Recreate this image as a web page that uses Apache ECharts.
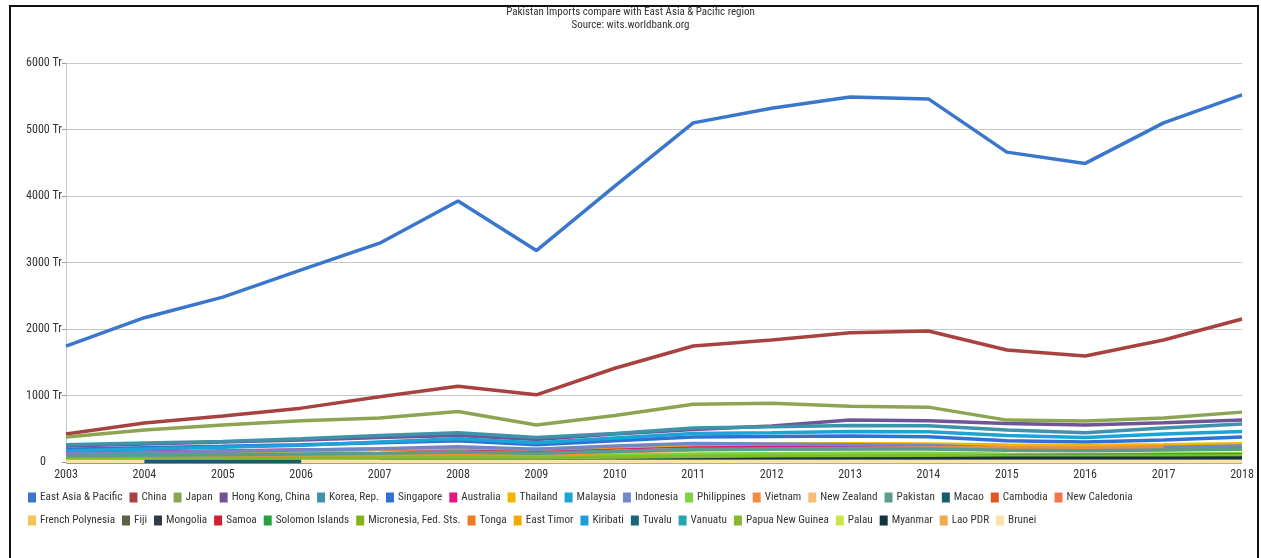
<!DOCTYPE html>
<html><head><meta charset="utf-8">
<script src="https://cdn.jsdelivr.net/npm/echarts@6/dist/echarts.min.js"></script>
<style>
html,body{margin:0;padding:0;background:#fff;width:1261px;height:558px;overflow:hidden;}
#frame{position:absolute;left:9px;top:5px;width:1250px;height:600px;border:2px solid #111;box-sizing:border-box;pointer-events:none;}
#chart{position:absolute;left:0;top:0;width:1261px;height:558px;}
</style></head>
<body>
<div id="chart"></div>
<div id="frame"></div>
<script>
const years = ['2003','2004','2005','2006','2007','2008','2009','2010','2011','2012','2013','2014','2015','2016','2017','2018'];
const yTicks = [0,1000,2000,3000,4000,5000,6000];
const titleText = 'Pakistan Imports compare with East Asia & Pacific region';
const subText = 'Source: wits.worldbank.org';

const eastAsiaPacific = [1744,2170,2480,2890,3290,3925,3180,4150,5100,5320,5490,5460,4660,4490,5100,5520];
const china = [420,586,690,810,980,1140,1010,1410,1745,1835,1945,1970,1685,1595,1835,2150];
const japan = [375,480,555,620,660,760,555,700,870,885,840,825,630,615,660,750];
const hongKong = [240,270,300,330,370,400,340,420,490,540,630,620,580,555,590,630];
const korea = [260,285,310,350,400,440,370,430,510,530,550,545,480,440,510,570];
const singapore = [190,215,235,260,290,320,260,320,375,385,390,380,320,300,330,375];
const australia = [130,150,165,180,190,200,160,210,240,235,230,225,190,185,200,215];
const thailand = [110,130,150,170,190,215,190,230,265,270,275,270,255,250,260,275];
const malaysia = [170,195,220,250,300,350,290,360,430,440,460,455,400,370,420,460];
const indonesia = [120,140,160,180,200,230,190,240,280,270,260,250,210,200,220,240];
const philippines = [60,70,75,80,90,100,80,100,120,125,130,130,115,110,120,125];
const vietnam = [40,55,65,80,100,120,110,150,180,190,200,210,215,210,230,null];
const newZealand = [30,35,40,45,50,55,50,60,70,75,80,80,70,70,75,80];
const pakistan = [90,100,110,120,130,150,130,160,190,190,195,195,175,170,180,190];
const macao = [null,8,8,8,null,null,null,null,null,null,null,null,null,null,null,null];
const cambodia = [10,12,14,15,16,18,16,20,22,24,25,26,24,24,25,26];
const newCaledonia = [12,12,13,13,14,15,14,15,16,16,17,17,16,16,17,17];
const frenchPolynesia = [6,6,7,7,8,8,7,8,9,9,9,9,8,8,9,9];
const fiji = [10,10,11,11,12,12,11,12,13,13,14,14,13,13,14,14];
const mongolia = [8,9,10,11,12,13,12,14,16,16,17,17,15,15,16,17];
const samoa = [2,2,2,2,3,3,3,3,3,3,3,3,3,3,3,3];
const solomonIslands = [20,22,25,28,30,35,30,40,50,55,60,65,95,100,105,110];
const micronesia = [4,4,5,5,5,6,5,6,6,6,7,7,6,6,7,7];
const tonga = [3,3,3,3,3,4,3,4,4,4,4,4,4,4,4,4];
const eastTimor = [4,4,5,5,5,6,5,6,7,7,7,7,6,6,7,7];
const kiribati = [3,3,3,3,3,3,3,3,3,3,3,3,3,3,3,3];
const tuvalu = [2,2,2,2,2,2,2,2,2,2,2,2,2,2,2,2];
const vanuatu = [5,5,5,6,6,6,6,6,7,7,7,7,6,6,7,7];
const papuaNewGuinea = [40,45,50,55,60,70,60,75,85,90,90,95,85,85,90,95];
const palau = [2,2,2,2,2,2,2,2,2,2,2,2,2,2,2,2];
const myanmar = [5,5,5,5,6,8,8,15,30,40,45,50,55,55,58,60];
const laoPDR = [4,4,5,5,5,5,5,6,6,6,6,6,6,6,6,6];
const brunei = [6,6,6,6,6,6,6,6,6,6,6,6,6,6,6,6];

const seriesDefs = [
  ['East Asia & Pacific', eastAsiaPacific, '#3a77cc'],
  ['China', china, '#a8423f'],
  ['Japan', japan, '#8ca553'],
  ['Hong Kong, China', hongKong, '#6f5596'],
  ['Korea, Rep.', korea, '#3e93aa'],
  ['Singapore', singapore, '#2f72d4'],
  ['Australia', australia, '#e3177d'],
  ['Thailand', thailand, '#f2b600'],
  ['Malaysia', malaysia, '#1aa5d6'],
  ['Indonesia', indonesia, '#7386c6'],
  ['Philippines', philippines, '#7dd43f'],
  ['Vietnam', vietnam, '#f08d40'],
  ['New Zealand', newZealand, '#f6bd78'],
  ['Pakistan', pakistan, '#5a9d8d'],
  ['Macao', macao, '#175d6b'],
  ['Cambodia', cambodia, '#e2571b'],
  ['New Caledonia', newCaledonia, '#f2774a'],
  ['French Polynesia', frenchPolynesia, '#fbc155'],
  ['Fiji', fiji, '#5c6248'],
  ['Mongolia', mongolia, '#2f3b4b'],
  ['Samoa', samoa, '#d31f33'],
  ['Solomon Islands', solomonIslands, '#27a03d'],
  ['Micronesia, Fed. Sts.', micronesia, '#86b31c'],
  ['Tonga', tonga, '#f37a23'],
  ['East Timor', eastTimor, '#f8a806'],
  ['Kiribati', kiribati, '#1e9cdf'],
  ['Tuvalu', tuvalu, '#18677a'],
  ['Vanuatu', vanuatu, '#27a5b5'],
  ['Papua New Guinea', papuaNewGuinea, '#87b92d'],
  ['Palau', palau, '#cde448'],
  ['Myanmar', myanmar, '#0f3541'],
  ['Lao PDR', laoPDR, '#f2a94c'],
  ['Brunei', brunei, '#fbe2aa']
];

const FONT = "'Roboto Condensed', 'Liberation Sans Narrow', sans-serif";
const names = seriesDefs.map(d => d[0]);
const row1 = names.slice(0, 17);
const row2 = names.slice(17);

const legendCommon = {
  orient: 'horizontal', left: 28, width: 1225, icon: 'rect', itemWidth: 8, itemHeight: 10,
  itemGap: 7, textStyle: { fontFamily: FONT, fontSize: 11.2, color: '#333', padding: [0,0,0,-1] },
  padding: 0
};

const chart = echarts.init(document.getElementById('chart'), null, { renderer: 'canvas' });
chart.setOption({
  animation: false,
  backgroundColor: '#fff',
  title: {
    text: titleText, subtext: subText, left: 'center', top: 2, itemGap: 2,
    textStyle: { fontFamily: FONT, fontSize: 11, fontWeight: 'normal', color: '#333' },
    subtextStyle: { fontFamily: FONT, fontSize: 11, color: '#333' }
  },
  legend: [
    Object.assign({}, legendCommon, { top: 492, data: row1 }),
    Object.assign({}, legendCommon, { top: 515, data: row2 })
  ],
  grid: { left: 66, right: 19, top: 63, bottom: 96, containLabel: false },
  xAxis: {
    type: 'category', data: years, boundaryGap: false,
    axisLine: { show: true, lineStyle: { color: '#c8c8c8', width: 1 } },
    axisTick: { show: false },
    axisLabel: { fontFamily: FONT, fontSize: 12, color: '#333', margin: 7 }
  },
  yAxis: {
    type: 'value', min: yTicks[0], max: yTicks[yTicks.length - 1], interval: 1000,
    axisLine: { show: true, lineStyle: { color: '#c8c8c8', width: 1 } },
    axisTick: { show: true, length: 4, lineStyle: { color: '#999' } },
    splitLine: { show: true, lineStyle: { color: '#c8c8c8', width: 1 } },
    axisLabel: { fontFamily: FONT, fontSize: 12, color: '#333', margin: 4,
      formatter: v => v === 0 ? '{z|0}' : v + ' Tr',
      rich: { z: { fontFamily: FONT, fontSize: 12, color: '#333', padding: [0, 16, 0, 0] } } }
  },
  series: seriesDefs.map(d => ({
    name: d[0], type: 'line', data: d[1], color: d[2],
    showSymbol: false, symbol: 'none', connectNulls: false,
    z: d[0] === 'Macao' ? 3 : 2,
    lineStyle: { width: 3.5, color: d[2] },
    emphasis: { disabled: true }
  }))
});
</script>
</body></html>
